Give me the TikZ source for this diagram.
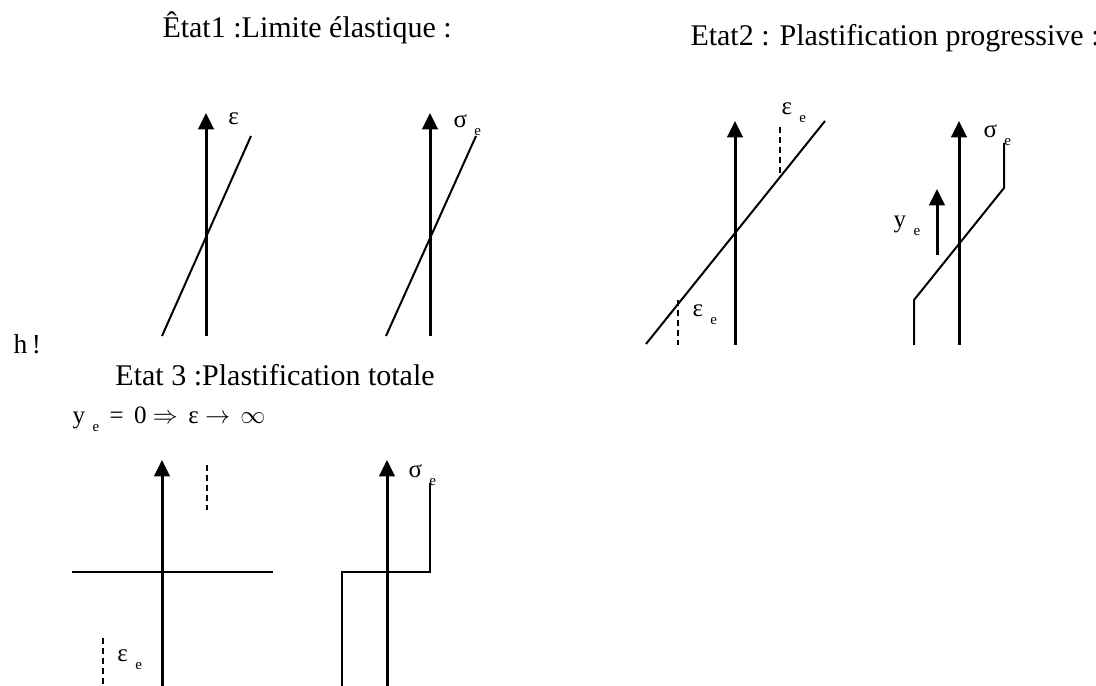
\documentclass[tikz,border=0pt]{standalone}
\usepackage{fontspec}
\setmainfont{Liberation Serif}
\usetikzlibrary{arrows.meta}

\newcommand{\indice}[1]{\hspace{3pt}\raisebox{-3pt}{\fontsize{6}{6}\selectfont #1}}

\tikzset{
	axe/.style={-{Triangle[width=6.2pt,length=6.6pt]}, line width=1.2pt},
	loi/.style={line width=0.8pt},
	seuil/.style={line width=0.9pt, dash pattern=on 2.4pt off 1.6pt},
	titre/.style={anchor=base west, inner sep=0pt, font=\fontsize{12}{14}\selectfont},
	lbl/.style={anchor=base west, inner sep=0pt, font=\fontsize{10}{12}\selectfont},
}

\begin{document}
\begin{tikzpicture}[x=0.4pt, y=-0.4pt]
	\useasboundingbox (0,0) rectangle (1096,686);

	% titres
	\node[titre] (lblEtat1) at (162,38) {Êtat1 :Limite élastique :};
	\node[titre] (lblEtat2) at (690,46) {Etat2 : Plastification progressive :};
	\node[lbl, font=\fontsize{11}{13}\selectfont] (lblH) at (13,354) {h\,!};
	\node[titre] (lblEtat3) at (115,386) {Etat 3 :Plastification totale};
	\node[lbl] (lblLim) at (72,424) {y\indice{e} \,= \,0 $\Rightarrow$ \,ε $\rightarrow$ \,$\infty$};

	% Etat 1
	\draw[axe] (206,336) -- (206,113);
	\node[lbl] (lblEps1) at (228,125) {ε};
	\draw[loi] (162,336) -- (251,136);

	\draw[axe] (430,336) -- (430,113);
	\node[lbl] (lblSig1) at (453,128) {σ\indice{e}};
	\draw[loi] (386,336) -- (476,136);

	% Etat 2
	\draw[axe] (735,345) -- (735,121);
	\draw[loi] (646,344) -- (825,121);
	\draw[seuil] (780,127) -- (780,175);
	\node[lbl] (lblEpsH2) at (781,115) {ε\indice{e}};
	\draw[seuil] (678,300) -- (678,345);
	\node[lbl] (lblEpsB2) at (692,317) {ε\indice{e}};

	\draw[axe] (959,345) -- (959,121);
	\node[lbl] (lblSig2) at (983,138) {σ\indice{e}};
	\draw[loi] (914,345) -- (914,300) -- (1004,188) -- (1004,143);
	\draw[axe] (937,255) -- (937,189);
	\node[lbl] (lblYe) at (893,228) {y\indice{e}};

	% Etat 3
	\draw[axe] (162,686) -- (162,460);
	\draw[loi] (72,572) -- (273,572);
	\draw[seuil] (207,465) -- (207,510);
	\draw[seuil] (103,638) -- (103,686);
	\node[lbl] (lblEps3) at (117,662) {ε\indice{e}};

	\draw[axe] (387,686) -- (387,460);
	\node[lbl] (lblSig3) at (408,478) {σ\indice{e}};
	\draw[loi] (342,686) -- (342,572) -- (430,572) -- (430,483);
\end{tikzpicture}
\end{document}
